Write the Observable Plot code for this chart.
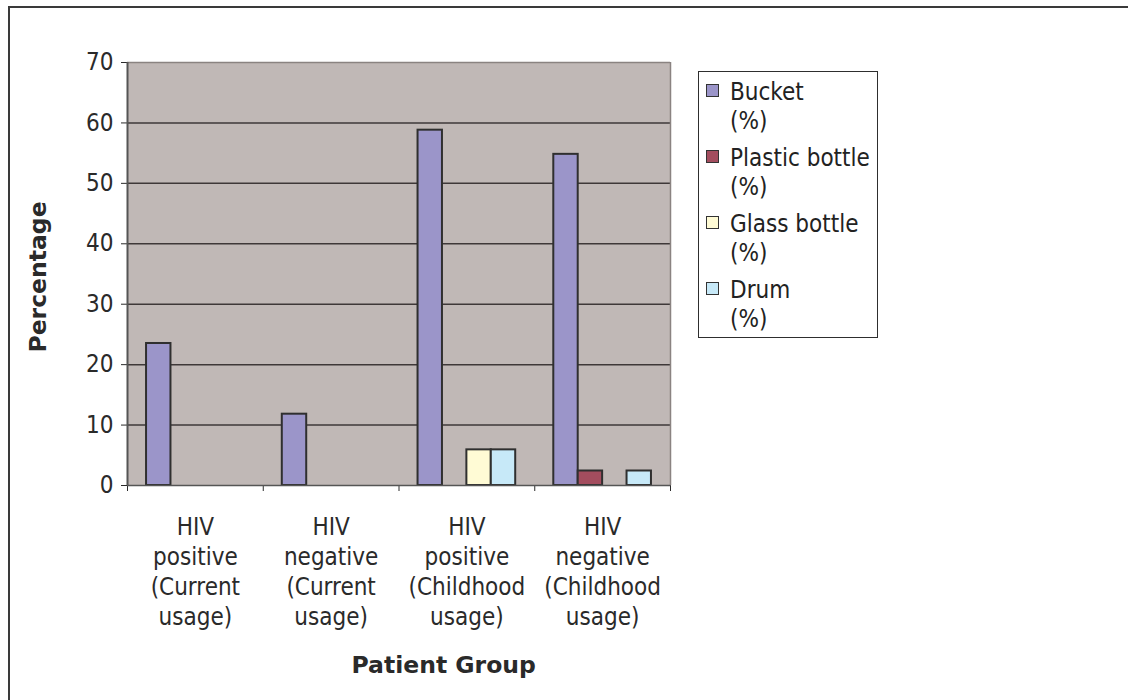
<!DOCTYPE html>
<html>
<head>
<meta charset="utf-8">
<script src="https://cdn.jsdelivr.net/npm/d3@7"></script>
<script src="https://cdn.jsdelivr.net/npm/@observablehq/plot@0.6"></script>
<style>
  html, body { margin: 0; padding: 0; background: #fff; overflow: hidden; }
  #wrap { position: relative; width: 1128px; height: 700px; overflow: hidden;
          font-family: "DejaVu Sans Condensed", "DejaVu Sans", sans-serif; }
  #border { position: absolute; left: 8px; top: 6px; width: 1300px; height: 900px;
            border-left: 2px solid #3a3a3a; border-top: 2px solid #3a3a3a; }
  #chart { position: absolute; left: 0; top: 0; }
  #legend { position: absolute; left: 698px; top: 71px; width: 180px; height: 267px;
            box-sizing: border-box; border: 1px solid #2e2e2e; background: #fff;
            padding: 6px 0 0 7px; }
  .item { display: flex; align-items: flex-start; margin-bottom: 8px;
          font-size: 24px; line-height: 29px; color: #222; }
  .sw { width: 11px; height: 11px; border: 1.5px solid #333; margin-top: 6px;
        margin-right: 11px; flex: none; }
</style>
</head>
<body>
<div id="wrap">
  <div id="border"></div>
  <div id="chart"></div>
  <div id="legend"></div>
</div>
<script>
// ---- data ----
const groups = [
  "HIV positive (Current usage)",
  "HIV negative (Current usage)",
  "HIV positive (Childhood usage)",
  "HIV negative (Childhood usage)"
];
const groupLabels = [
  "HIV\npositive\n(Current\nusage)",
  "HIV\nnegative\n(Current\nusage)",
  "HIV\npositive\n(Childhood\nusage)",
  "HIV\nnegative\n(Childhood\nusage)"
];
const series = ["Bucket", "Plastic bottle", "Glass bottle", "Drum"];
const seriesUnit = "(%)";
const bucket        = [23.5, 11.8, 58.8, 54.8];
const plasticBottle = [0,    0,    0,    2.4];
const glassBottle   = [0,    0,    5.9,  0];
const drum          = [0,    0,    5.9,  2.4];
const colors = ["#9B95C9", "#A34D5E", "#FFFBD5", "#C7E9F8"];
const yTicks = [0, 10, 20, 30, 40, 50, 60, 70];
const yLabel = "Percentage";
const xLabel = "Patient Group";

// ---- table ----
const seriesValues = [bucket, plasticBottle, glassBottle, drum];
const rows = [];
groups.forEach((g, gi) => {
  seriesValues.forEach((vals, si) => {
    if (vals[gi] > 0) rows.push({gi, si, group: g, series: series[si], value: vals[gi]});
  });
});
const padOuter = 0.78;                       // gap at each side of a group, in bar widths
const slot = 1 / (series.length + 2 * padOuter);

const plot = Plot.plot({
  width: 1128,
  height: 700,
  marginLeft: 127,
  marginRight: 458,
  marginTop: 62,
  marginBottom: 215,
  style: {
    fontFamily: '"DejaVu Sans Condensed", "DejaVu Sans", sans-serif',
    fontSize: "24px",
    color: "#2a2a2a",
    background: "transparent",
    overflow: "visible"
  },
  x: {domain: [0, groups.length], ticks: d3.range(groups.length + 1), tickFormat: () => "", tickSize: 6, label: null},
  y: {domain: [0, 70], ticks: yTicks, tickSize: 6, tickPadding: 8, label: null},
  color: {domain: series, range: colors},
  marks: [
    Plot.frame({fill: "#C0B8B6", stroke: null}),
    Plot.ruleY(yTicks.filter(t => t > 0 && t < 70), {stroke: "#3e3838", strokeWidth: 1.5}),
    Plot.ruleY([70], {stroke: "#8a8381", strokeWidth: 1.5}),
    Plot.ruleX([groups.length], {stroke: "#8a8381", strokeWidth: 1.5}),
    Plot.rect(rows, {
      x1: d => d.gi + (padOuter + d.si) * slot,
      x2: d => d.gi + (padOuter + d.si + 1) * slot,
      y1: 0,
      y2: "value",
      fill: "series",
      stroke: "#2f2f2f",
      strokeWidth: 2
    }),
    Plot.ruleY([0], {stroke: "#555", strokeWidth: 1.5}),
    Plot.ruleX([0], {stroke: "#555", strokeWidth: 2}),
    Plot.text(groupLabels, {
      x: (d, i) => i + 0.5,
      frameAnchor: "bottom",
      lineAnchor: "top",
      dy: 28,
      lineHeight: 1.25,
      fontSize: 24,
      fill: "#2a2a2a"
    }),
    Plot.text([yLabel], {
      frameAnchor: "left",
      textAnchor: "middle",
      rotate: -90,
      dx: -89,
      dy: 3,
      fontSize: 23.5,
      fontWeight: "bold",
      fontFamily: '"DejaVu Sans", sans-serif',
      fill: "#2a2a2a"
    }),
    Plot.text([xLabel], {
      frameAnchor: "bottom-left",
      textAnchor: "start",
      dx: 224,
      dy: 187,
      fontSize: 23.5,
      fontWeight: "bold",
      fontFamily: '"DejaVu Sans", sans-serif',
      fill: "#2a2a2a"
    })
  ]
});
document.getElementById("chart").appendChild(plot);

// ---- legend ----
const legend = document.getElementById("legend");
series.forEach((s, i) => {
  const item = document.createElement("div");
  item.className = "item";
  const sw = document.createElement("div");
  sw.className = "sw";
  sw.style.background = colors[i];
  const label = document.createElement("div");
  label.innerHTML = `${s}<br>${seriesUnit}`;
  item.appendChild(sw);
  item.appendChild(label);
  legend.appendChild(item);
});
</script>
</body>
</html>
